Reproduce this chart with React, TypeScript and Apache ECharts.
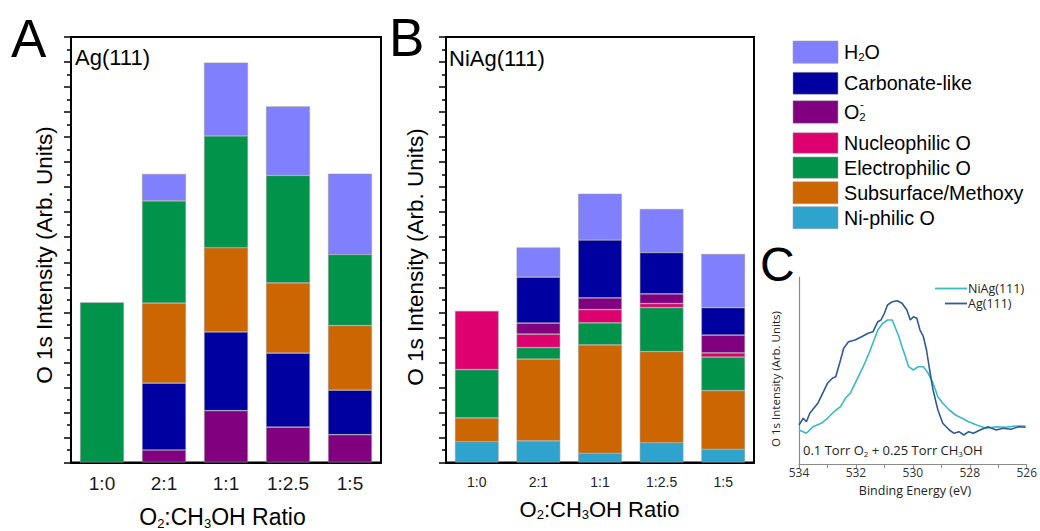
import { useEffect, useRef } from 'react';
import * as echarts from 'echarts';

// O2:CH3OH feed ratios
const ratios = ['1:0', '2:1', '1:1', '1:2.5', '1:5'];

// Panel A – Ag(111) O 1s component areas (arb. units)
const agO2minus = ['-', 0.5, 2.07, 1.41, 1.11];
const agCarbonate = ['-', 2.67, 3.15, 2.96, 1.78];
const agSubsurface = ['-', 3.2, 3.36, 2.81, 2.58];
const agElectrophilic = [6.4, 4.08, 4.47, 4.29, 2.84];
const agH2O = ['-', 1.08, 2.93, 2.76, 3.23];

// Panel B – NiAg(111) O 1s component areas (arb. units)
const niNiphilic = [0.83, 0.86, 0.37, 0.79, 0.53];
const niSubsurface = [0.95, 3.27, 4.33, 3.64, 2.34];
const niElectrophilic = [1.93, 0.46, 0.88, 1.76, 1.34];
const niNucleophilic = [2.35, 0.54, 0.53, 0.16, 0.17];
const niO2minus = ['-', 0.44, 0.47, 0.39, 0.71];
const niCarbonate = ['-', 1.84, 2.31, 1.65, 1.1];
const niH2O = ['-', 1.18, 1.85, 1.74, 2.14];

// Panel C – O 1s spectra, binding energy (eV) and intensity
const agEnergy = [534.0, 533.85, 533.74, 533.62, 533.34, 533.17, 533.0, 532.83, 532.71, 532.54, 532.43, 532.26, 532.03, 531.8, 531.57, 531.4, 531.23, 531.12, 531.0, 530.89, 530.72, 530.55, 530.38, 530.21, 530.09, 529.98, 529.86, 529.75, 529.63, 529.52, 529.41, 529.29, 529.12, 528.95, 528.72, 528.55, 528.38, 528.21, 528.04, 527.87, 527.64, 527.36, 527.07, 526.84, 526.56, 526.27, 526.04];
const agIntensity = [39, 45.7, 42.3, 50.7, 60.7, 70.7, 80.7, 85.7, 87.3, 104, 115.7, 122.3, 124, 127.3, 130.7, 132.3, 142.3, 144, 150.7, 159, 162.3, 163.3, 160.7, 154, 144, 147.3, 145.7, 134, 127.3, 114, 94, 74, 54, 40.7, 34, 30.7, 32.3, 29, 32.3, 30.7, 34, 37.3, 34, 35.7, 34.7, 37.3, 36.7];
const niEnergy = [534.0, 533.74, 533.51, 533.22, 533.0, 532.77, 532.54, 532.37, 532.2, 532.03, 531.86, 531.69, 531.52, 531.34, 531.23, 531.06, 530.89, 530.72, 530.61, 530.49, 530.38, 530.26, 530.15, 529.98, 529.81, 529.63, 529.46, 529.29, 529.12, 528.95, 528.72, 528.5, 528.27, 528.04, 527.76, 527.42, 527.07, 526.73, 526.39, 526.04];
const niIntensity = [34, 30.7, 37.3, 40.7, 45.7, 52.3, 57.3, 65.7, 70.7, 80.7, 90.7, 100.7, 112.3, 125.7, 134, 140.7, 144, 144, 135.7, 127.3, 117.3, 107.3, 97.3, 94, 97.3, 97.3, 90.7, 80.7, 67.3, 60.7, 54, 49, 45.7, 42.3, 39, 35.7, 37.3, 36.7, 38, 38];

const COLORS = {
  h2o: '#8080FF',
  carbonate: '#0000A0',
  o2minus: '#800080',
  nucleophilic: '#DF0070',
  electrophilic: '#00934A',
  subsurface: '#CC6600',
  niphilic: '#2EA3CD',
};

const SANS = '"Liberation Sans", Arial, sans-serif';
const OPEN = '"Open Sans", "Liberation Sans", sans-serif';

// Rich text with subscripts: parts are [text, 'm' (main) | 's' (subscript)]
function subText(parts: string[][], size: number, subSize: number, family: string, color = '#000') {
  const text = parts.map(([t, k]) => `{${k}|${t}}`).join('');
  return {
    text,
    fill: color,
    rich: {
      m: { fontSize: size, fontFamily: family, fill: color, lineHeight: size + 2 },
      s: { fontSize: subSize, fontFamily: family, fill: color, lineHeight: subSize + 2, verticalAlign: 'bottom' },
    },
  };
}

export default function App() {
  const ref = useRef<HTMLDivElement>(null);

  useEffect(() => {
    if (!ref.current) return;
    const chart = echarts.init(ref.current, null, { renderer: 'svg' });

    const barStyle = (c: string) => ({ color: c, borderColor: 'rgba(150,150,150,0.8)', borderWidth: 0.7 });
    const bar = (name: string, data: any[], color: string, axis: number, stack: string) => ({
      name,
      type: 'bar',
      stack,
      xAxisIndex: axis,
      yAxisIndex: axis === 0 ? 0 : 1,
      data,
      barWidth: '71%',
      itemStyle: barStyle(color),
    });

    const intensityY = (gridIndex: number) => ({
      type: 'value',
      gridIndex,
      min: 0,
      max: 17,
      interval: 1,
      axisLabel: { show: false },
      axisLine: { show: true, lineStyle: { color: '#000', width: 2 } },
      axisTick: { show: true, length: 7, lineStyle: { color: '#000', width: 1.5 } },
      minorTick: { show: true, splitNumber: 2, length: 4, lineStyle: { color: '#000', width: 1.5 } },
      splitLine: { show: false },
      minorSplitLine: { show: false },
    });

    const legendNames = [
      { parts: [['H', 'm'], ['2', 's'], ['O', 'm']], color: COLORS.h2o },
      { parts: [['Carbonate-like', 'm']], color: COLORS.carbonate },
      { parts: [['O', 'm'], ['2', 's']], color: COLORS.o2minus },
      { parts: [['Nucleophilic O', 'm']], color: COLORS.nucleophilic },
      { parts: [['Electrophilic O', 'm']], color: COLORS.electrophilic },
      { parts: [['Subsurface/Methoxy', 'm']], color: COLORS.subsurface },
      { parts: [['Ni-philic O', 'm']], color: COLORS.niphilic },
    ];
    const legendTop = [41, 72.3, 100.7, 132.7, 157, 181.7, 206.7];
    const legendH = [22.3, 22, 22.6, 20.6, 21.3, 22, 22];

    const legendGraphics: any[] = [];
    legendNames.forEach((l, i) => {
      legendGraphics.push({
        type: 'rect',
        shape: { x: 793, y: legendTop[i], width: 45, height: legendH[i] },
        style: { fill: l.color, stroke: 'rgba(160,160,160,0.8)', lineWidth: 0.7 },
      });
      legendGraphics.push({
        type: 'text',
        x: 844,
        y: legendTop[i] + legendH[i] / 2,
        style: { ...subText(l.parts, 19.7, 11.5, SANS), align: 'left', verticalAlign: 'middle' },
      });
    });
    legendGraphics.push({
      type: 'text',
      x: 860,
      y: 104,
      style: { text: '-', fill: '#000', fontSize: 11.5, fontFamily: SANS, align: 'left', verticalAlign: 'middle' },
    });

    const option: any = {
      animation: false,
      backgroundColor: '#fff',
      grid: [
        { left: 71, top: 37, width: 310, height: 425.5, show: true, borderColor: '#000', borderWidth: 2, backgroundColor: 'transparent' },
        { left: 446, top: 37, width: 308, height: 425.5, show: true, borderColor: '#000', borderWidth: 2, backgroundColor: 'transparent' },
        { left: 799, top: 277, width: 234, height: 187, show: false },
      ],
      xAxis: [
        {
          type: 'category',
          gridIndex: 0,
          position: 'bottom',
          data: ratios,
          axisLine: { lineStyle: { color: '#000', width: 2 } },
          axisTick: { alignWithLabel: true, length: 7, lineStyle: { color: '#000', width: 1.5 } },
          axisLabel: { fontSize: 19, color: '#1a1a1a', fontFamily: SANS, margin: 11 },
        },
        {
          type: 'category',
          gridIndex: 1,
          position: 'bottom',
          data: ratios,
          axisLine: { lineStyle: { color: '#000', width: 2 } },
          axisTick: { alignWithLabel: true, length: 4, lineStyle: { color: '#000', width: 1.5 } },
          axisLabel: { fontSize: 14, color: '#222', fontFamily: SANS, margin: 12 },
        },
        {
          type: 'category',
          gridIndex: 1,
          position: 'bottom',
          data: ratios,
          axisLine: { show: false },
          axisTick: { alignWithLabel: false, length: 4, lineStyle: { color: '#000', width: 1.5 } },
          axisLabel: { show: false },
        },
        {
          type: 'value',
          gridIndex: 2,
          position: 'bottom',
          min: 526,
          max: 534,
          interval: 2,
          inverse: true,
          axisLine: { lineStyle: { color: '#8a8a8a', width: 1.2 } },
          axisTick: { length: 4, lineStyle: { color: '#8a8a8a' } },
          minorTick: { show: true, splitNumber: 2, length: 4, lineStyle: { color: '#8a8a8a' } },
          axisLabel: { fontSize: 12, color: '#333', fontFamily: OPEN, margin: 2, lineHeight: 13 },
          splitLine: { show: false },
        },
      ],
      yAxis: [
        intensityY(0),
        intensityY(1),
        {
          type: 'value',
          gridIndex: 2,
          min: 0,
          max: 187,
          axisLabel: { show: false },
          axisTick: { show: false },
          axisLine: { show: true, lineStyle: { color: '#8a8a8a', width: 1.2 } },
          splitLine: { show: false },
        },
      ],
      series: [
        bar('O2-', agO2minus, COLORS.o2minus, 0, 'ag'),
        bar('Carbonate-like', agCarbonate, COLORS.carbonate, 0, 'ag'),
        bar('Subsurface/Methoxy', agSubsurface, COLORS.subsurface, 0, 'ag'),
        bar('Electrophilic O', agElectrophilic, COLORS.electrophilic, 0, 'ag'),
        bar('H2O', agH2O, COLORS.h2o, 0, 'ag'),

        bar('Ni-philic O', niNiphilic, COLORS.niphilic, 1, 'ni'),
        bar('Subsurface/Methoxy', niSubsurface, COLORS.subsurface, 1, 'ni'),
        bar('Electrophilic O', niElectrophilic, COLORS.electrophilic, 1, 'ni'),
        bar('Nucleophilic O', niNucleophilic, COLORS.nucleophilic, 1, 'ni'),
        bar('O2-', niO2minus, COLORS.o2minus, 1, 'ni'),
        bar('Carbonate-like', niCarbonate, COLORS.carbonate, 1, 'ni'),
        bar('H2O', niH2O, COLORS.h2o, 1, 'ni'),

        {
          name: 'Ag(111)',
          type: 'line',
          xAxisIndex: 3,
          yAxisIndex: 2,
          showSymbol: false,
          data: agEnergy.map((e, i) => [e, agIntensity[i]]),
          lineStyle: { color: '#2F5A96', width: 1.6 },
          z: 3,
        },
        {
          name: 'NiAg(111)',
          type: 'line',
          xAxisIndex: 3,
          yAxisIndex: 2,
          showSymbol: false,
          data: niEnergy.map((e, i) => [e, niIntensity[i]]),
          lineStyle: { color: '#38BAC0', width: 1.6 },
          z: 2,
        },
      ],
      graphic: [
        // panel letters
        { type: 'text', x: 11, y: 38, style: { text: 'A', fill: '#000', fontSize: 53, fontFamily: SANS, align: 'left', verticalAlign: 'middle' } },
        { type: 'text', x: 389, y: 37, style: { text: 'B', fill: '#000', fontSize: 53, fontFamily: SANS, align: 'left', verticalAlign: 'middle' } },
        { type: 'text', x: 760, y: 264, style: { text: 'C', fill: '#000', fontSize: 48, fontFamily: SANS, align: 'left', verticalAlign: 'middle' } },

        // sample labels
        { type: 'text', x: 75, y: 57.5, style: { text: 'Ag(111)', fill: '#000', fontSize: 22, fontFamily: SANS, align: 'left', verticalAlign: 'middle' } },
        { type: 'text', x: 449, y: 58, style: { text: 'NiAg(111)', fill: '#000', fontSize: 22, fontFamily: SANS, align: 'left', verticalAlign: 'middle' } },

        // y-axis titles
        { type: 'text', x: 44, y: 255, rotation: Math.PI / 2, style: { text: 'O 1s Intensity (Arb. Units)', fill: '#000', fontSize: 22.5, fontFamily: SANS, align: 'center', verticalAlign: 'middle' } },
        { type: 'text', x: 415, y: 257, rotation: Math.PI / 2, style: { text: 'O 1s Intensity (Arb. Units)', fill: '#000', fontSize: 22.5, fontFamily: SANS, align: 'center', verticalAlign: 'middle' } },
        { type: 'text', x: 775, y: 379, rotation: Math.PI / 2, style: { text: 'O 1s Intensity (Arb. Units)', fill: '#222', fontSize: 11.5, fontFamily: OPEN, align: 'center', verticalAlign: 'middle' } },

        // x-axis titles
        { type: 'text', x: 222.5, y: 517, style: { ...subText([['O', 'm'], ['2', 's'], [':CH', 'm'], ['3', 's'], ['OH Ratio', 'm']], 23, 13, SANS), align: 'center', verticalAlign: 'middle' } },
        { type: 'text', x: 599.5, y: 509, style: { ...subText([['O', 'm'], ['2', 's'], [':CH', 'm'], ['3', 's'], ['OH Ratio', 'm']], 22, 13, SANS), align: 'center', verticalAlign: 'middle' } },
        { type: 'text', x: 915, y: 490, style: { text: 'Binding Energy (eV)', fill: '#222', fontSize: 12.5, fontFamily: OPEN, align: 'center', verticalAlign: 'middle', lineHeight: 14 } },

        // panel C annotations
        { type: 'text', x: 803, y: 450, style: { ...subText([['0.1 Torr O', 'm'], ['2', 's'], [' + 0.25 Torr CH', 'm'], ['3', 's'], ['OH', 'm']], 13, 8, OPEN, '#222'), align: 'left', verticalAlign: 'middle' } },
        { type: 'line', shape: { x1: 935, y1: 288.5, x2: 967, y2: 288.5 }, style: { stroke: '#38BAC0', lineWidth: 1.8 } },
        { type: 'text', x: 968, y: 288.5, style: { text: 'NiAg(111)', fill: '#222', fontSize: 12.5, fontFamily: OPEN, align: 'left', verticalAlign: 'middle', lineHeight: 14 } },
        { type: 'line', shape: { x1: 945, y1: 303.5, x2: 967, y2: 303.5 }, style: { stroke: '#2F5A96', lineWidth: 1.8 } },
        { type: 'text', x: 968, y: 303.5, style: { text: 'Ag(111)', fill: '#222', fontSize: 12.5, fontFamily: OPEN, align: 'left', verticalAlign: 'middle', lineHeight: 14 } },

        ...legendGraphics,
      ],
    };

    chart.setOption(option);
    return () => chart.dispose();
  }, []);

  return (
    <div
      ref={ref}
      style={{ position: 'fixed', left: 0, top: 0, width: 1040, height: 531, background: '#fff' }}
    />
  );
}
